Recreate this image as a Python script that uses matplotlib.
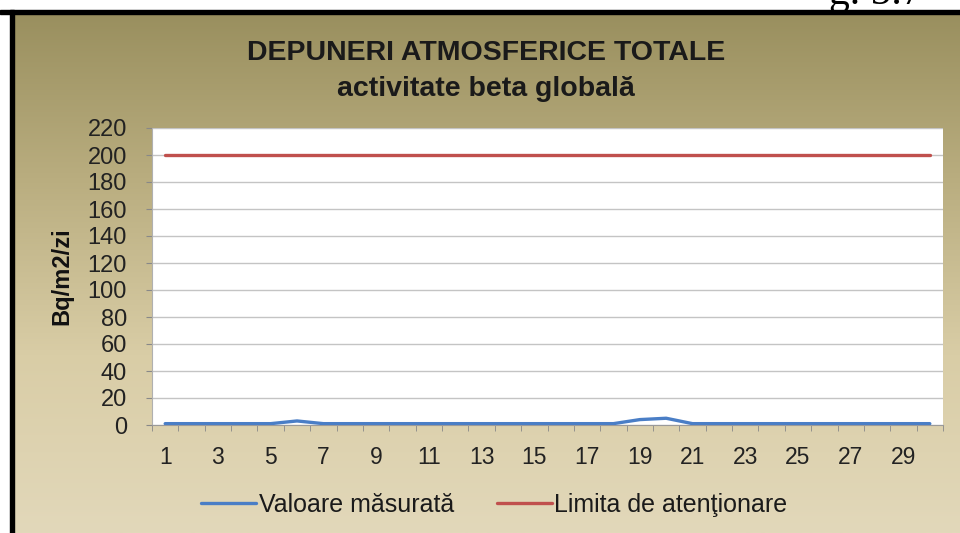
import numpy as np
import matplotlib
matplotlib.use("Agg")
import matplotlib.pyplot as plt
from matplotlib.colors import LinearSegmentedColormap

# ---- data ----
days = list(range(1, 31))
measured = [1, 1, 1, 1, 1, 3, 1, 1, 1, 1, 1, 1, 1, 1, 1, 1, 1, 1, 4, 5,
            1, 1, 1, 1, 1, 1, 1, 1, 1, 1]
limit = [200] * 30
xtick_labels = [str(d) for d in range(1, 30, 2)]
yticks = list(range(0, 221, 20))
title1 = "DEPUNERI ATMOSFERICE TOTALE"
title2 = "activitate beta globală"
ylabel = "Bq/m2/zi"
legend_labels = ["Valoare măsurată", "Limita de atenţionare"]

plt.rcParams['font.family'] = ['Liberation Sans', 'DejaVu Sans']

W, H = 960, 533
fig = plt.figure(figsize=(W / 100, H / 100), dpi=100)

# background gradient
bg = fig.add_axes([0, 0, 1, 1], zorder=0)
cmap = LinearSegmentedColormap.from_list("bg", ["#978d5c", "#b9ad7f", "#d9cda6", "#e2d8ba"])
grad = np.linspace(0, 1, 256).reshape(-1, 1)
bg.imshow(grad, aspect="auto", cmap=cmap, extent=[0, 1, 0, 1], origin="upper")
bg.set_xlim(0, 1)
bg.set_ylim(0, 1)
bg.axis("off")
# white strip at top and black frame
bg.add_patch(plt.Rectangle((0, 1 - 10 / H), 1, 10 / H, color="white", zorder=2))
bg.add_patch(plt.Rectangle((0, 1 - 14 / H), 1, 4 / H, color="black", zorder=3))
bg.add_patch(plt.Rectangle((0, 0), 10 / W, 1, color="white", zorder=2))
bg.add_patch(plt.Rectangle((10 / W, 0), 4 / W, 1 - 10 / H, color="black", zorder=3))
fig.text(0.864, 1 - 4 / H, "g. 5.7", family="Liberation Serif", fontsize=30,
         ha="left", va="baseline", color="black", zorder=5)

# main axes
L, R = 152 / W, 943 / W
T, B = 1 - 128 / H, 1 - 425 / H
ax = fig.add_axes([L, B, R - L, T - B], zorder=1)
ax.set_facecolor("white")
ax.plot(days, measured, color="#4a7ec6", lw=2.4, solid_capstyle="round", zorder=3,
        label=legend_labels[0])
ax.plot(days, limit, color="#c0504d", lw=2.4, solid_capstyle="round", zorder=3,
        label=legend_labels[1])
ax.set_xlim(0.5, 30.5)
ax.set_ylim(0, 220)
ax.set_yticks(yticks)
ax.set_yticklabels([str(v) for v in yticks], fontsize=17, color="#222222")
ax.set_xticks(list(range(1, 30, 2)))
ax.set_xticklabels(xtick_labels, fontsize=16.5, color="#222222")
ax.set_xticks(np.arange(0.5, 31, 1), minor=True)
ax.tick_params(axis="x", which="major", length=0, pad=15)
ax.tick_params(axis="x", which="minor", length=4, color="#888888")
ax.tick_params(axis="y", length=4, color="#888888", pad=14)
ax.grid(axis="y", color="#c4c4c4", lw=1)
ax.set_axisbelow(True)
for s in ["top", "right"]:
    ax.spines[s].set_visible(False)
ax.spines["left"].set_color("#b0b0b0")
ax.spines["bottom"].set_color("#9a9a9a")
ax.set_ylabel(ylabel, fontsize=17, fontweight="bold", labelpad=10, color="#111111")

fig.text(0.506, 1 - 53 / H, title1, fontsize=20.5, fontweight="bold",
         ha="center", va="center", color="#1a1a1a")
fig.text(0.506, 1 - 89 / H, title2, fontsize=20.5, fontweight="bold",
         ha="center", va="center", color="#1a1a1a")

leg = fig.legend(loc="center", bbox_to_anchor=(0.515, 1 - 505 / H), ncol=2,
                 frameon=False, fontsize=18, handlelength=2.2, handletextpad=0.1,
                 columnspacing=1.7)
for t in leg.get_texts():
    t.set_color("#1a1a1a")

fig.savefig("out.png", dpi=100)
